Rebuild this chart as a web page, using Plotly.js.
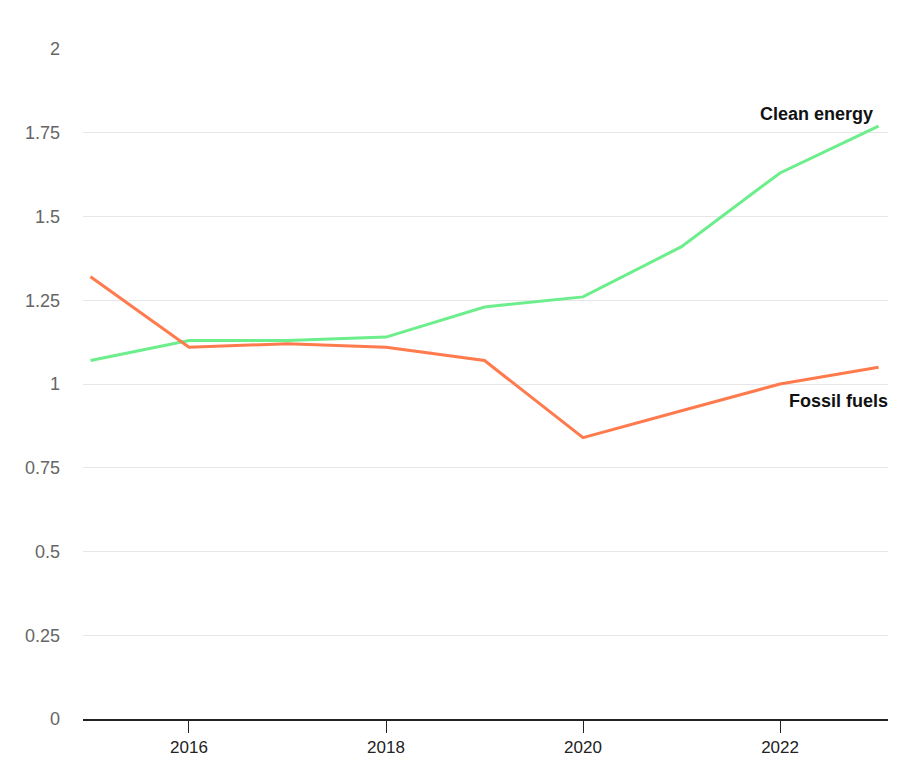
<!DOCTYPE html>
<html><head><meta charset="utf-8">
<script src="https://cdn.plot.ly/plotly-3.0.1.min.js"></script>
<style>body{margin:0;background:#fff}#c{width:902px;height:757px}</style>
</head><body><div id="c"></div>
<script>
const years = [2015,2016,2017,2018,2019,2020,2021,2022,2023];
const cleanEnergy = [1.07,1.13,1.13,1.14,1.23,1.26,1.41,1.63,1.77];
const fossilFuels = [1.32,1.11,1.12,1.11,1.07,0.84,0.92,1.00,1.05];
const yTicks = [0,0.25,0.5,0.75,1,1.25,1.5,1.75,2];
const yTickText = ['0','0.25','0.5','0.75','1','1.25','1.5','1.75','2'];
const xTicks = [2016,2018,2020,2022];

const traces = [
  {x: years, y: cleanEnergy, type:'scatter', mode:'lines', name:'Clean energy',
   line:{color:'#6bee8b', width:3}},
  {x: years, y: fossilFuels, type:'scatter', mode:'lines', name:'Fossil fuels',
   line:{color:'#ff7a4c', width:3}}
];
const layout = {
  width:902, height:757,
  margin:{l:83, r:14, t:49, b:38},
  showlegend:false,
  paper_bgcolor:'#fff', plot_bgcolor:'#fff',
  font:{family:'Liberation Sans, Arial, sans-serif', size:17},
  xaxis:{range:[2014.924,2023.096], tickvals:xTicks, ticktext:xTicks.map(String),
    showgrid:false, zeroline:false, showline:true, linecolor:'#222', linewidth:1.5,
    ticks:'outside', ticklen:12, tickwidth:1.3, tickcolor:'#222',
    tickfont:{color:'#222', size:17}},
  yaxis:{range:[0,2], tickvals:yTicks, ticktext:yTickText, showgrid:true,
    gridcolor:'#e6e6e6', gridwidth:1.3, zeroline:false, showline:false,
    ticks:'', ticklabelstandoff:22, tickfont:{color:'#666', size:18}},
  annotations:[
    {x:years[years.length-1], y:cleanEnergy[cleanEnergy.length-1], xref:'x', yref:'y',
     text:'<b>Clean energy</b>', showarrow:false, xanchor:'right', yanchor:'bottom',
     xshift:-4, yshift:0, font:{size:18, color:'#111'}},
    {x:years[years.length-1], y:fossilFuels[fossilFuels.length-1], xref:'x', yref:'y',
     text:'<b>Fossil fuels</b>', showarrow:false, xanchor:'right', yanchor:'top',
     xshift:11, yshift:-22, font:{size:18, color:'#111'}}
  ]
};
Plotly.newPlot('c', traces, layout, {displayModeBar:false});
</script></body></html>
